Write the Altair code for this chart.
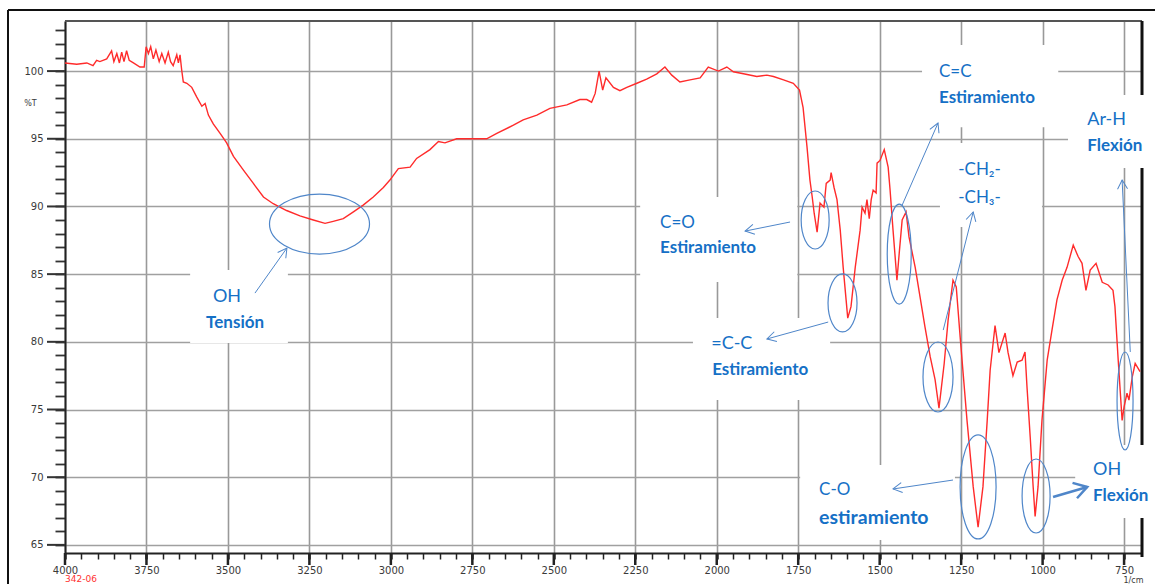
import math
import altair as alt
import pandas as pd

# ---------------- spectrum ----------------
wavenumber = [4000, 3964, 3933, 3914, 3903, 3893, 3872, 3857, 3850, 3841, 3833, 3826, 3819, 3811, 3803,
              3790, 3770, 3757, 3751, 3744, 3737, 3729, 3721, 3711, 3703, 3693, 3683, 3676, 3668, 3657,
              3652, 3647, 3642, 3637, 3626, 3611, 3596, 3580, 3570, 3560, 3545, 3524, 3504, 3483, 3453,
              3422, 3391, 3361, 3320, 3279, 3238, 3202, 3177, 3146, 3115, 3085, 3054, 3023, 3003, 2977,
              2941, 2921, 2880, 2854, 2834, 2798, 2747, 2706, 2675, 2624, 2594, 2552, 2512, 2460, 2420,
              2399, 2384, 2373, 2361, 2350, 2340, 2317, 2297, 2276, 2245, 2215, 2184, 2159, 2138, 2113,
              2082, 2051, 2026, 1995, 1969, 1949, 1918, 1877, 1846, 1826, 1795, 1765, 1746, 1735, 1723,
              1714, 1707, 1701, 1692, 1683, 1671, 1664, 1652, 1649, 1640, 1631, 1621, 1612, 1603, 1598,
              1588, 1575, 1560, 1554, 1545, 1539, 1532, 1526, 1520, 1511, 1508, 1499, 1486, 1474, 1468,
              1459, 1450, 1447, 1440, 1431, 1419, 1410, 1391, 1376, 1361, 1345, 1330, 1318, 1302, 1290,
              1275, 1265, 1253, 1232, 1213, 1198, 1183, 1170, 1161, 1146, 1134, 1115, 1106, 1091, 1078,
              1063, 1054, 1048, 1038, 1029, 1023, 1014, 1002, 986, 971, 956, 940, 925, 906, 891,
              879, 867, 854, 836, 817, 799, 784, 778, 768, 756, 750, 741, 735, 725, 716, 701]
transmittance = [100.6, 100.5, 100.6, 100.4, 100.8, 100.7, 100.9, 101.5, 100.7, 101.3, 100.6, 101.4, 100.7, 101.5, 100.8,
                 100.6, 100.3, 100.3, 101.8, 101.3, 101.8, 100.9, 101.55, 100.7, 101.3, 100.6, 101.4, 100.7, 100.4, 101.2,
                 100.6, 101.2, 100.1, 99.2, 99.1, 98.8, 98.1, 97.4, 97.6, 96.75, 96.1, 95.4, 94.7, 93.7, 92.7,
                 91.7, 90.7, 90.2, 89.7, 89.3, 89.0, 88.75, 88.9, 89.1, 89.6, 90.1, 90.7, 91.4, 91.95, 92.8,
                 92.9, 93.55, 94.2, 94.8, 94.7, 95.0, 95.0, 95.0, 95.4, 96.0, 96.4, 96.75, 97.25, 97.5, 97.9,
                 97.9, 97.7, 98.35, 100.0, 98.6, 99.5, 98.8, 98.55, 98.8, 99.1, 99.4, 99.8, 100.3, 99.7, 99.2,
                 99.35, 99.5, 100.3, 100.0, 100.3, 99.95, 99.8, 99.6, 99.7, 99.6, 99.35, 99.1, 98.6, 97.3, 94.4,
                 91.95, 90.7, 89.5, 88.1, 90.25, 89.95, 91.7, 91.95, 92.5, 91.4, 90.5, 88.25, 85.5, 83.1, 81.75,
                 82.6, 85.5, 88.25, 89.95, 89.5, 90.5, 89.1, 90.5, 91.2, 91.0, 93.2, 93.4, 94.2, 92.9, 91.2,
                 88.25, 85.5, 84.55, 86.55, 89.0, 89.6, 87.75, 85.5, 83.3, 81.1, 78.9, 77.2, 75.1, 78.4, 81.6,
                 84.55, 84.05, 80.35, 74.2, 69.3, 66.3, 69.3, 74.2, 77.9, 81.2, 79.2, 80.65, 79.2, 77.5, 78.5,
                 78.65, 79.25, 76.7, 72.95, 69.3, 67.1, 69.3, 74.2, 78.65, 80.9, 83.1, 84.55, 85.5, 87.15, 86.3,
                 85.8, 83.8, 85.3, 85.8, 84.4, 84.2, 83.8, 82.6, 78.65, 74.2, 75.2, 76.2, 75.7, 77.4, 78.4, 77.8]

x_label_values = [4000, 3750, 3500, 3250, 3000, 2750, 2500, 2250, 2000, 1750, 1500, 1250, 1000, 750]
y_label_values = [65, 70, 75, 80, 85, 90, 95, 100]

# ---------------- annotations (in wavenumber / %T units) ----------------
ann_text = ["OH", "Tensión", "C=O", "Estiramiento", "=C-C", "Estiramiento", "C=C", "Estiramiento",
            "-CH₂-", "-CH₃-", "Ar-H", "Flexión", "C-O", "estiramiento", "OH", "Flexión"]
ann_wn = [3546, 3567, 2174, 2174, 2017, 2014, 1318, 1318, 1259, 1259, 863, 863, 1686, 1686, 845, 845]
ann_t = [83.3, 81.4, 88.77, 86.9, 79.84, 77.95, 99.93, 98.04, 92.7, 90.6, 96.4, 94.46, 69.05, 66.99, 70.53, 68.61]
ann_size = [18, 17, 17, 17, 18, 17, 17, 17, 17, 17, 18, 17, 17, 19.5, 18, 17]
ann_bold = [False, True, False, True, False, True, False, True, False, False, False, True, False, True, False, True]

box_wn1 = [3616, 2235, 2073, 1744, 900, 1370, 1315, 922]
box_wn2 = [3316, 1753, 1652, 1269, 655, 952, 1002, 655]
box_t1 = [85.30, 90.69, 81.76, 70.90, 72.38, 101.92, 94.68, 98.23]
box_t2 = [79.91, 84.42, 75.70, 65.36, 66.99, 95.86, 88.48, 92.84]

ell_wn = [3219, 1698, 1614, 1440, 1321, 1198, 1020, 747]
ell_t = [88.70, 89.0, 82.87, 86.48, 77.40, 69.28, 68.61, 75.63]
ell_rx = [50, 14, 14.5, 12, 15, 18, 14, 8]
ell_ry = [30, 29, 29, 50, 35, 52, 37, 49]

arr_wn1 = [3417, 1775, 1658, 1431, 1305, 1275, 968, 731]
arr_t1 = [83.60, 88.85, 81.46, 90.10, 80.87, 69.79, 68.54, 79.25]
arr_wn2 = [3319, 1913, 1846, 1321, 1213, 1459, 863, 756]
arr_t2 = [86.93, 88.18, 80.21, 96.16, 89.59, 69.13, 69.28, 91.95]
arr_width = [1, 1, 1, 1, 1, 1, 2.5, 1]

# ---------------- layout ----------------
W, H = 1077, 532
X_DOM = [695, 4000]
Y_DOM = [64.4, 103.7]
BLUE = "#1570c6"
LINEBLUE = "#4f86c9"

xs = alt.Scale(domain=X_DOM, reverse=True, nice=False, zero=False)
ys = alt.Scale(domain=Y_DOM, nice=False, zero=False)

x_axis = alt.Axis(
    values=list(range(750, 4001, 50)),
    labelExpr="datum.value % 250 === 0 ? datum.value : ''",
    gridOpacity={"condition": {"test": "datum.value % 250 === 0", "value": 1}, "value": 0},
    tickWidth={"condition": {"test": "datum.value % 250 === 0", "value": 2.5}, "value": 1.5},
    grid=True, gridColor="#999999", gridWidth=1.6,
    tickSize=6, tickColor="#222222", domainColor="#222222", domainWidth=2,
    labelFont="DejaVu Sans", labelFontSize=10, labelColor="#3a3a3a", labelPadding=6,
    labelFlush=False, labelOverlap=False,
    title="1/cm", titleFont="DejaVu Sans", titleFontSize=8, titleFontWeight="normal",
    titleColor="#3a3a3a", titleX=1068, titleY=29, titleAlign="center", titleBaseline="alphabetic",
)
y_axis = alt.Axis(
    values=list(range(65, 104)),
    labelExpr="datum.value % 5 === 0 ? datum.value : ''",
    gridOpacity={"condition": {"test": "datum.value % 5 === 0", "value": 1}, "value": 0},
    grid=True, gridColor="#a0a0a0", gridWidth=1.4,
    tickSize=10, tickWidth=1.8, tickColor="#333333", domainColor="#222222", domainWidth=2,
    labelFont="DejaVu Sans", labelFontSize=10, labelColor="#3a3a3a", labelPadding=12,
    labelOverlap=False,
    title="%T", titleAngle=0, titleX=-35, titleY=86, titleFont="DejaVu Sans", titleFontSize=8,
    titleFontWeight="normal", titleColor="#3a3a3a", titleAlign="center",
)


def X(field):
    return alt.X(field, scale=xs, axis=x_axis)


def Y(field):
    return alt.Y(field, scale=ys, axis=y_axis)


spec = pd.DataFrame({"wn": wavenumber, "t": transmittance})
line = alt.Chart(spec).mark_line(color="#ff2b2b", strokeWidth=1.4).encode(x=X("wn:Q"), y=Y("t:Q"))

one = pd.DataFrame({"a": [0]})
frame_top = alt.Chart(one).mark_rule(color="#555555", strokeWidth=2).encode(
    x=alt.value(0), x2=alt.value(W), y=alt.value(0))
frame_right = alt.Chart(one).mark_rule(color="#111111", strokeWidth=3).encode(
    x=alt.value(W), y=alt.value(0), y2=alt.value(H + 4))
outer_left = alt.Chart(one).mark_rule(color="#111111", strokeWidth=2).encode(
    x=alt.value(-57), y=alt.value(-11), y2=alt.value(H + 40))
outer_top = alt.Chart(one).mark_rule(color="#111111", strokeWidth=2).encode(
    x=alt.value(-57), x2=alt.value(W + 20), y=alt.value(-11))

ymaj = alt.Chart(pd.DataFrame({"v": y_label_values})).mark_rule(color="#333333", strokeWidth=2).encode(
    y=Y("v:Q"), x=alt.value(-18), x2=alt.value(0))
xmaj = alt.Chart(pd.DataFrame({"v": x_label_values})).mark_rule(color="#222222", strokeWidth=2.5).encode(
    x=X("v:Q"), y=alt.value(H), y2=alt.value(H + 12))

boxes = alt.Chart(pd.DataFrame({"wn": box_wn1, "wn2": box_wn2, "t": box_t1, "t2": box_t2})).mark_rect(
    color="white").encode(x=X("wn:Q"), x2="wn2:Q", y=Y("t:Q"), y2="t2:Q")

ell_df = pd.DataFrame({"wn": ell_wn, "t": ell_t})
ell_df["shape"] = [f"M {-rx} 0 A {rx} {ry} 0 1 0 {rx} 0 A {rx} {ry} 0 1 0 {-rx} 0 Z"
                   for rx, ry in zip(ell_rx, ell_ry)]
ellipses = alt.Chart(ell_df).mark_point(filled=False, color=LINEBLUE, strokeWidth=1.2, opacity=1).encode(
    x=X("wn:Q"), y=Y("t:Q"), shape=alt.Shape("shape:N", scale=None), size=alt.value(4))

kx = W / (X_DOM[1] - X_DOM[0])
ky = H / (Y_DOM[1] - Y_DOM[0])
arr_df = pd.DataFrame({"wn": arr_wn1, "t": arr_t1, "wn2": arr_wn2, "t2": arr_t2, "w": arr_width})
arr_df["ang"] = [math.degrees(math.atan2((a1 - a2) * ky, (b1 - b2) * kx)) % 360
                 for b1, a1, b2, a2 in zip(arr_wn1, arr_t1, arr_wn2, arr_t2)]
arr_df["head"] = ["M -13 -8 L 0 0 L -13 8" if w > 1.5 else "M -9 -5 L 0 0 L -9 5" for w in arr_width]

arrow_lines = alt.Chart(arr_df).mark_rule(color=LINEBLUE).encode(
    x=X("wn:Q"), x2="wn2:Q", y=Y("t:Q"), y2="t2:Q",
    strokeWidth=alt.StrokeWidth("w:Q", scale=None))
arrow_heads = alt.Chart(arr_df).mark_point(filled=False, color=LINEBLUE, opacity=1).encode(
    x=X("wn2:Q"), y=Y("t2:Q"),
    shape=alt.Shape("head:N", scale=None),
    angle=alt.Angle("ang:Q", scale=None),
    strokeWidth=alt.StrokeWidth("w:Q", scale=None),
    size=alt.value(4))

txt_df = pd.DataFrame({"text": ann_text, "wn": ann_wn, "t": ann_t, "fs": ann_size, "bold": ann_bold})
texts_regular = alt.Chart(txt_df[~txt_df["bold"]]).mark_text(
    align="left", baseline="middle", font="Lato", color=BLUE, fontWeight="normal").encode(
    x=X("wn:Q"), y=Y("t:Q"), text="text:N", size=alt.Size("fs:Q", scale=None))
texts_bold = alt.Chart(txt_df[txt_df["bold"]]).mark_text(
    align="left", baseline="middle", font="Lato", color=BLUE, fontWeight="bold").encode(
    x=X("wn:Q"), y=Y("t:Q"), text="text:N", size=alt.Size("fs:Q", scale=None))

code_label = alt.Chart(pd.DataFrame({"s": ["342-06"]})).mark_text(
    align="left", baseline="alphabetic", font="DejaVu Sans", fontSize=9, color="#ff3030").encode(
    x=alt.value(0), y=alt.value(H + 29), text="s:N")

chart = alt.layer(
    frame_top, frame_right, boxes, line, ellipses, arrow_lines, arrow_heads,
    texts_regular, texts_bold, ymaj, xmaj, outer_left, outer_top, code_label
).properties(
    width=W, height=H,
    autosize=alt.AutoSizeParams(type="none"),
    padding={"left": 65, "top": 21, "right": 13, "bottom": 31},
    background="white",
).configure_view(stroke=None)

chart.save("out.html", embed_options={"renderer": "svg", "actions": False})
